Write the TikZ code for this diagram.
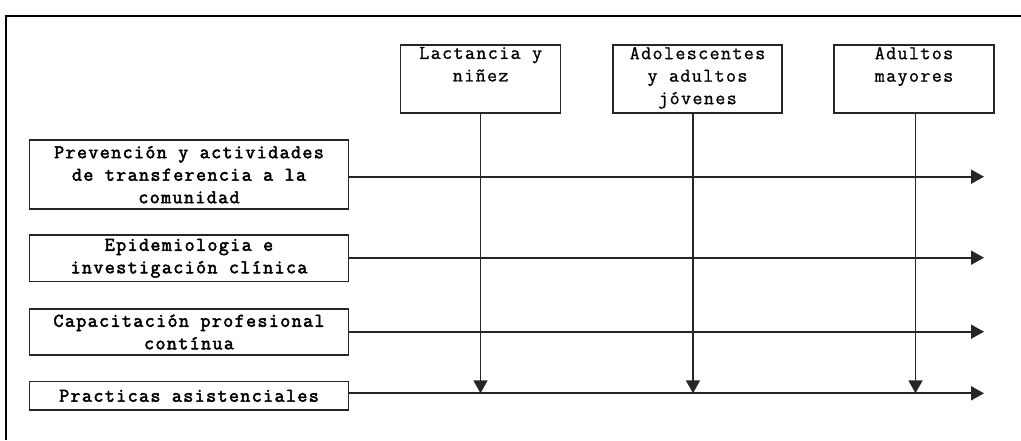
\documentclass[tikz,border=0pt]{standalone}
\usepackage{fontspec}
\newfontfamily\lmm[LetterSpace=7,FakeBold=1]{Latin Modern Mono}
\newfontfamily\lmmb[LetterSpace=7,FakeBold=2.5]{Latin Modern Mono}
\usetikzlibrary{arrows.meta}
\begin{document}
\begin{tikzpicture}[x=1pt,y=-1pt,
  ln/.style={line width=1.8pt,draw=black!85},
  arr/.style={ln,-{Triangle[length=13pt,width=14pt]}},
  lbox/.style={draw=black!85,line width=1.5pt,rectangle,minimum width=319pt,inner sep=0pt,align=center,
    font=\lmmb\fontsize{19.5}{22.5}\selectfont},
  tbox/.style={draw=black!85,line width=1.5pt,rectangle,inner sep=0pt,
    font=\lmm\fontsize{19.5}{22.5}\selectfont}
]
\useasboundingbox (0,0) rectangle (1021,440);
% frame
\draw[line width=2pt] (6,440) -- (6,16) -- (1021,16);
% top boxes
\node[tbox] (t1) at (480.7,79) {\parbox[c][68pt][t]{160pt}{\centering\vspace{2pt}Lactancia y\\niñez}};
\node[tbox] (t2) at (697.5,79) {\parbox[c][68pt][t]{169pt}{\centering\vspace{2pt}Adolescentes\\y adultos\\jóvenes}};
\node[tbox] (t3) at (914,79) {\parbox[c][68pt][t]{160pt}{\centering\vspace{2pt}Adultos\\mayores}};
% left boxes
\node[lbox,minimum height=69pt] (b1) at (189,174.7) {Prevención y actividades\\de transferencia a la\\comunidad};
\node[lbox,minimum height=46.7pt] (b2) at (189,258.3) {Epidemiologia e\\investigación clínica};
\node[lbox,minimum height=46pt] (b3) at (189,332) {Capacitación profesional\\contínua};
\node[lbox,minimum height=28.3pt] (b4) at (189,395.8) {Practicas asistenciales};
% right end coordinates
\coordinate (e1) at (984,176.7);
\coordinate (e2) at (984,257.7);
\coordinate (e3) at (984,331.7);
\coordinate (e4) at (984,393.3);
\draw[arr] (b1.east |- e1) -- (e1);
\draw[arr] (b2.east |- e2) -- (e2);
\draw[arr] (b3.east |- e3) -- (e3);
\draw[arr] (b4.east |- e4) -- (e4);
% vertical arrows
\coordinate (d1) at (480.5,393.3);
\coordinate (d2) at (693,393.3);
\coordinate (d3) at (915.5,393.3);
\draw[arr] (t1.south -| d1) -- (d1);
\draw[arr] (t2.south -| d2) -- (d2);
\draw[arr] (t3.south -| d3) -- (d3);
\end{tikzpicture}
\end{document}
